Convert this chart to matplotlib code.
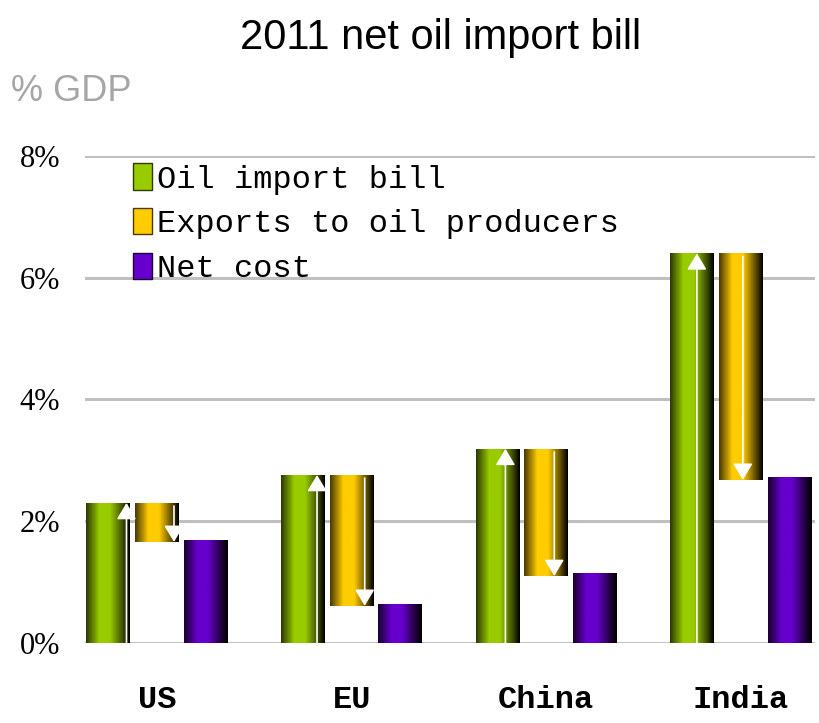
import matplotlib
matplotlib.use('Agg')

import numpy as np
import matplotlib.pyplot as plt
from matplotlib.colors import LinearSegmentedColormap
from matplotlib.patches import Patch, ArrowStyle

# data (% of GDP)
countries = ['US', 'EU', 'China', 'India']
oil_bill = [2.30, 2.76, 3.19, 6.40]
exports = [0.64, 2.15, 2.09, 3.72]
net_cost = [1.69, 0.64, 1.15, 2.73]
yticks = [0, 2, 4, 6, 8]
ytick_labels = ['0%', '2%', '4%', '6%', '8%']

# where the white arrows sit inside the bars (offset from bar centre)
arrow_dx_import = [0.093, 0.072, 0.040, 0.024]
arrow_dx_export = [0.087, 0.067, 0.041, 0.010]

def shade(name, dark_l, mid, dark_r):
    return LinearSegmentedColormap.from_list(
        name, [(0, dark_l), (0.3, mid), (0.55, mid), (0.85, dark_r), (1, '#000000')])

cm_green = shade('g', '#2e3a00', '#99cc00', '#3a4a00')
cm_gold = shade('o', '#4a3a00', '#ffcc00', '#5a4800')
cm_purple = shade('p', '#1a0030', '#6600cc', '#22003f')

fig = plt.figure(figsize=(8.2, 7.23), dpi=100)
ax = fig.add_axes([0.1037, 0.1107, 0.890, 0.6736])

x = np.arange(len(countries))
off = 0.25
w = 0.225
oil = np.array(oil_bill)
exp_ = np.array(exports)

b1 = ax.bar(x - off, oil, w, color='#99cc00', zorder=2)
b2 = ax.bar(x, exp_, w, bottom=oil - exp_, color='#ffcc00', zorder=2)
b3 = ax.bar(x + off, net_cost, w, color='#6600cc', zorder=2)

grad = np.linspace(0, 1, 64)[np.newaxis, :]
for bars, cm in [(b1, cm_green), (b2, cm_gold), (b3, cm_purple)]:
    for p in bars:
        x0, y0 = p.get_x(), p.get_y()
        im = ax.imshow(grad, extent=[x0, x0 + p.get_width(), y0, y0 + p.get_height()],
                       cmap=cm, aspect='auto', zorder=3, interpolation='bilinear')
        im.set_clip_path(p)

style = ArrowStyle('-|>', head_length=0.5, head_width=0.3)
for i in range(len(countries)):
    xa = x[i] - off + arrow_dx_import[i]
    ax.annotate('', xy=(xa, oil[i]), xytext=(xa, 0),
                arrowprops=dict(arrowstyle=style, color='white', lw=1.2,
                                mutation_scale=20, shrinkA=0, shrinkB=0), zorder=5)
    xb = x[i] + arrow_dx_export[i]
    ax.annotate('', xy=(xb, oil[i] - exp_[i]), xytext=(xb, oil[i] - 0.05),
                arrowprops=dict(arrowstyle=style, color='white', lw=1.2,
                                mutation_scale=20, shrinkA=0, shrinkB=0), zorder=5)

ax.set_xlim(-0.37, 3.38)
ax.set_ylim(0, 8)
ax.set_yticks(yticks)
ax.set_yticklabels(ytick_labels, fontfamily='Liberation Serif', fontsize=22)
ax.set_xticks(x)
ax.set_xticklabels(countries, fontfamily='Liberation Mono', fontsize=23, fontweight='bold')
ax.tick_params(axis='y', length=0, pad=18)
ax.tick_params(axis='x', length=0, pad=30)
ax.yaxis.grid(True, color='#c0c0c0', lw=2.2)
ax.set_axisbelow(True)
for s in ax.spines.values():
    s.set_visible(False)

handles = [Patch(facecolor='#99cc00', edgecolor='#2e3a00', lw=1),
           Patch(facecolor='#ffcc00', edgecolor='#4a3a00', lw=1),
           Patch(facecolor='#6600cc', edgecolor='#1a0030', lw=1)]
ax.legend(handles, ['Oil import bill', 'Exports to oil producers', 'Net cost'],
          loc='upper left', bbox_to_anchor=(0.066, 0.985), frameon=False,
          borderaxespad=0, borderpad=0, handlelength=0.6, handleheight=0.9,
          handletextpad=0.15, labelspacing=0.42,
          prop=dict(family='Liberation Mono', size=23))

fig.text(0.537, 0.948, '2011 net oil import bill', ha='center', va='center',
         fontfamily='Liberation Sans', fontsize=30)
fig.text(0.014, 0.873, '% GDP', ha='left', va='center',
         fontfamily='Liberation Sans', fontsize=26, color='#a6a6a6')

fig.savefig('out.png', dpi=100)
